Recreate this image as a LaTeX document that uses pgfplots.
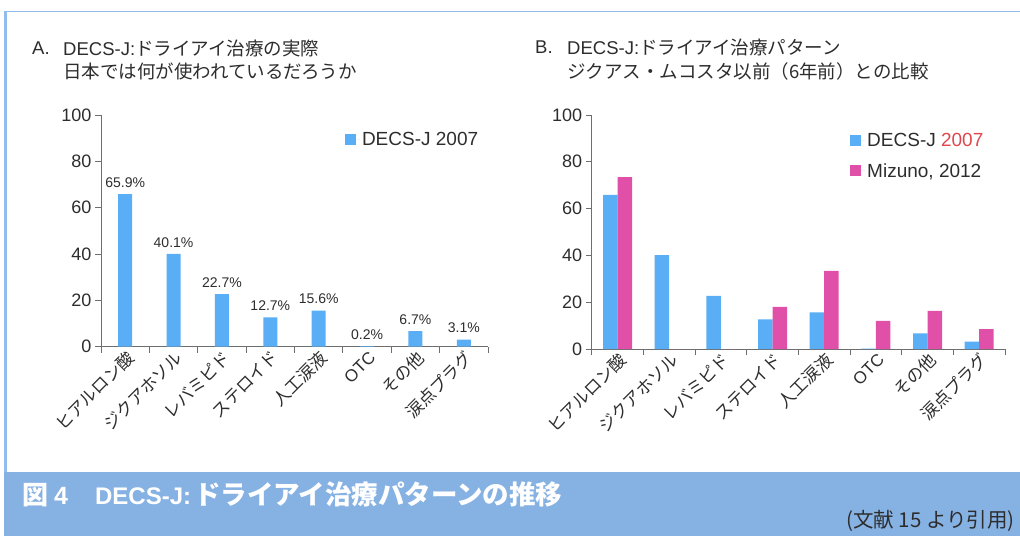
\documentclass[border=0pt]{standalone}
\usepackage{fontspec}
\setmainfont{Liberation Sans}
\newfontfamily\jp{Noto Sans CJK JP}
\usepackage{pgfplots}
\pgfplotsset{compat=1.18}
\definecolor{barblue}{RGB}{90,174,245}
\definecolor{barmag}{RGB}{224,79,168}
\definecolor{banner}{RGB}{134,177,227}
\definecolor{redyr}{RGB}{224,71,76}
\definecolor{txt}{RGB}{45,45,45}
\definecolor{axgray}{RGB}{110,110,110}
\definecolor{frameblue}{RGB}{145,188,235}
\newcommand{\fs}[1]{\fontsize{#1}{#1}\selectfont}
\pgfplotsset{
  sqlegend/.style={legend image code/.code={\fill[##1] (0pt,-5.5pt) rectangle (11pt,5.5pt); \path (0pt,0pt) -- (15pt,0pt);}},
  myaxis/.style={
    scale only axis, xmin=-0.5, xmax=7.5, ymin=0, ymax=100,
    axis lines*=left, axis line style={-, draw=axgray, line width=0.8pt},
    ytick={0,20,...,100}, tick align=outside, major tick length=6pt,
    tick style={draw=axgray, line width=0.8pt},
    xtick={-0.5,0.5,...,7.5}, xticklabels={},
    extra x ticks={0,1,2,3,4,5,6,7},
    extra x tick labels={ヒアルロン酸,ジクアホソル,レバミピド,ステロイド,人工涙液,{\fontspec{Liberation Sans}OTC},その他,涙点プラグ},
    extra x tick style={tick style={draw=none},
      xticklabel style={rotate=45, anchor=east, font=\jp\fs{17}, text=txt, xshift=6pt, yshift=-5pt}},
    yticklabel style={font=\fs{18}, text=txt},
    /pgf/number format/assume math mode=true,
    legend style={draw=none, fill=none, font=\fs{19}, text=txt, cells={anchor=west}, row sep=11pt, inner sep=0pt},
    clip=false,
  }
}
\begin{document}
\begin{tikzpicture}[x=1pt,y=1pt]
\useasboundingbox (0,0) rectangle (1020,536);
% frame
\draw[frameblue, line width=0.8pt] (7,525) -- (1020,525);
\draw[frameblue, line width=3pt] (5.5,525.4) -- (5.5,64);
\fill[banner] (4,0) rectangle (1020,64);
\node[anchor=west, text=white, inner sep=0pt] at (22,42) {\jp\bfseries\fs{26}図\hspace{6pt}{\fontspec{Liberation Sans}\bfseries\fs{25}4}\hspace{27pt}{\fontspec{Liberation Sans}\bfseries\fs{24}DECS-J:}\hspace{3pt}\fs{26.5}ドライアイ治療パターンの推移};
\node[anchor=east, text=txt, inner sep=0pt] at (1015,15) {\jp\fs{20.5}(文献 15 より引用)};
% titles
\node[anchor=west, text=txt, inner sep=0pt] at (32,488) {\fs{18.5}A.};
\node[anchor=west, text=txt, inner sep=0pt] at (63,488) {\fs{18.5}DECS-J:\jp ドライアイ治療の実際};
\node[anchor=west, text=txt, inner sep=0pt] at (63,465) {\jp\fs{18.5}日本では何が使われているだろうか};
\node[anchor=west, text=txt, inner sep=0pt] at (535,489) {\fs{18.5}B.};
\node[anchor=west, text=txt, inner sep=0pt] at (567,489) {\fs{18.5}DECS-J:\jp ドライアイ治療パターン};
\node[anchor=west, text=txt, inner sep=0pt] at (567,465) {\jp\fs{18.5}ジクアス・ムコスタ以前（6年前）との比較};
% Panel A
\begin{axis}[myaxis, at={(101pt,189.3pt)}, anchor=south west, width=387pt, height=231.7pt,
  ybar, bar width=14pt,
  legend style={at={(0.63,0.935)}, anchor=north west},
  nodes near coords={\pgfmathprintnumber[fixed,fixed zerofill,precision=1]{\pgfplotspointmeta}\%},
  every node near coord/.append style={font=\fs{14}, text=txt, yshift=3pt}]
\addplot[fill=barblue, draw=none, sqlegend] coordinates {(0,65.9) (1,40.1) (2,22.7) (3,12.7) (4,15.6) (5,0.2) (6,6.7) (7,3.1)};
\addlegendentry{DECS-J 2007}
\end{axis}
% Panel B
\begin{axis}[myaxis, at={(591.7pt,187pt)}, anchor=south west, width=413.3pt, height=234pt,
  ybar=0pt, bar width=14.5pt,
  legend style={at={(0.625,0.93)}, anchor=north west}]
\addplot[fill=barblue, draw=none, sqlegend] coordinates {(0,65.9) (1,40.1) (2,22.7) (3,12.7) (4,15.6) (5,0.2) (6,6.7) (7,3.1)};
\addlegendentry{DECS-J \textcolor{redyr}{2007}}
\addplot[fill=barmag, draw=none, sqlegend] coordinates {(0,73.5) (1,0) (2,0) (3,18.0) (4,33.4) (5,12.0) (6,16.3) (7,8.5)};
\addlegendentry{Mizuno, 2012}
\end{axis}
\end{tikzpicture}
\end{document}
